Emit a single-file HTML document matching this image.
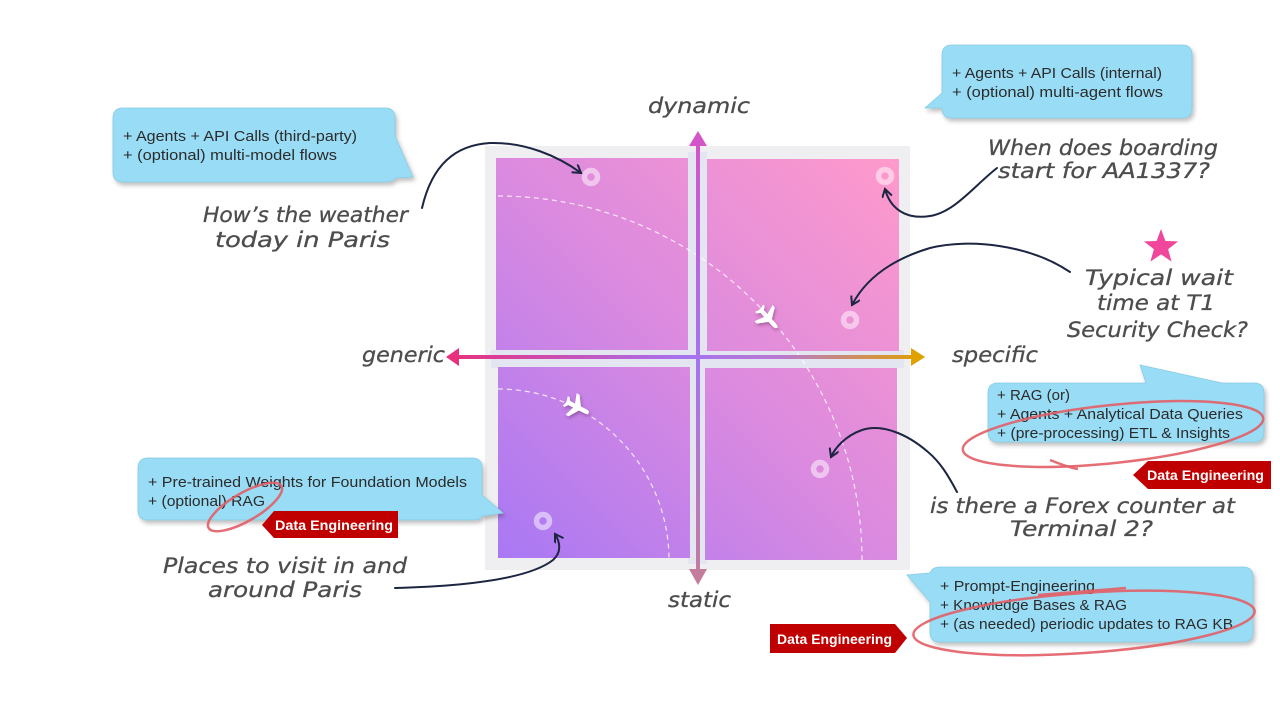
<!DOCTYPE html>
<html><head><meta charset="utf-8"><style>
html,body{margin:0;padding:0;background:#fff;}
svg{display:block;}
.hw{font-family:"DejaVu Sans","Liberation Sans",sans-serif;font-style:italic;fill:#4d4d4d;font-size:21px;stroke:#4d4d4d;stroke-width:0.3px;}
.cb{font-family:"Liberation Sans","DejaVu Sans",sans-serif;fill:#2b2b2b;font-size:15px;}
.de{font-family:"Liberation Sans","DejaVu Sans",sans-serif;fill:#fff;font-size:13.5px;font-weight:bold;}
</style></head><body>
<svg width="1280" height="720" viewBox="0 0 1280 720" xmlns="http://www.w3.org/2000/svg">
<defs>
<linearGradient id="qg" gradientUnits="userSpaceOnUse" x1="498" y1="560" x2="899" y2="158">
<stop offset="0" stop-color="#a878f4"/><stop offset="0.5" stop-color="#db8adf"/><stop offset="1" stop-color="#ff9acb"/>
</linearGradient>
<linearGradient id="vg" gradientUnits="userSpaceOnUse" x1="0" y1="140" x2="0" y2="580">
<stop offset="0" stop-color="#d455c8"/><stop offset="0.5" stop-color="#a673f0"/><stop offset="1" stop-color="#c47c9c"/>
</linearGradient>
<linearGradient id="hg" gradientUnits="userSpaceOnUse" x1="450" y1="0" x2="922" y2="0">
<stop offset="0" stop-color="#e8307f"/><stop offset="0.5" stop-color="#a673f0"/><stop offset="0.7" stop-color="#b87ad0"/><stop offset="1" stop-color="#e0a000"/>
</linearGradient>
<filter id="sh" x="-10%" y="-20%" width="130%" height="150%">
<feDropShadow dx="2" dy="3" stdDeviation="2" flood-color="#000" flood-opacity="0.25"/>
</filter>
<filter id="psh" x="-50%" y="-50%" width="200%" height="200%">
<feDropShadow dx="1" dy="2" stdDeviation="1.5" flood-color="#603060" flood-opacity="0.5"/>
</filter>
<marker id="ah" markerUnits="userSpaceOnUse" markerWidth="14" markerHeight="14" refX="9" refY="5" orient="auto">
<path d="M1,0 L9,5 L1,10" fill="none" stroke="#1c2541" stroke-width="2"/>
</marker>
</defs>

<!-- quadrant background -->
<rect x="485" y="146" width="425" height="424" fill="#efeff1"/>
<rect x="688" y="152" width="19" height="412" fill="#e3e5f1"/>
<rect x="491" y="350" width="413" height="18" fill="#e3e5f1"/>
<rect x="496" y="158" width="192" height="192" fill="url(#qg)"/>
<rect x="707" y="159" width="192" height="192" fill="url(#qg)"/>
<rect x="498" y="367" width="192" height="191" fill="url(#qg)"/>
<rect x="705" y="368" width="192" height="192" fill="url(#qg)"/>

<!-- dashed arcs -->
<path d="M498,196 A364,364 0 0 1 862,560" fill="none" stroke="#fff" stroke-opacity="0.8" stroke-width="1.2" stroke-dasharray="5,4"/>
<path d="M498,389 A171,171 0 0 1 669,560" fill="none" stroke="#fff" stroke-opacity="0.8" stroke-width="1.2" stroke-dasharray="5,4"/>

<!-- axes -->
<rect x="696" y="144" width="4" height="427" fill="url(#vg)"/>
<polygon points="689,146 707,146 698,131" fill="#d455c8"/>
<polygon points="689,569 707,569 698,585" fill="#c47c9c"/>
<rect x="457" y="355" width="456" height="4" fill="url(#hg)"/>
<polygon points="459,348 459,366 446,357" fill="#e8307f"/>
<polygon points="911,348 911,366 925,357" fill="#e0a000"/>

<!-- rings -->
<g fill="none" stroke="#fff" stroke-opacity="0.5" stroke-width="5.5">
<circle cx="591" cy="177" r="6.5"/>
<circle cx="885" cy="176" r="6.5"/>
<circle cx="850" cy="320" r="6.5"/>
<circle cx="820" cy="469" r="6.5"/>
<circle cx="543" cy="521" r="6.5"/>
</g>

<!-- planes -->
<g filter="url(#psh)" fill="#fff">
<path transform="translate(768,318) rotate(48) scale(1.1)" d="M12,0 C12,-1.5 10,-2 8,-2 L3,-2 L-3,-11 L-6,-11 L-3,-2 L-8,-2 L-10,-5 L-12,-5 L-11,-1.5 L-11,1.5 L-12,5 L-10,5 L-8,2 L-3,2 L-6,11 L-3,11 L3,2 L8,2 C10,2 12,1.5 12,0 Z"/>
<path transform="translate(577,407) rotate(27) scale(1.1)" d="M12,0 C12,-1.5 10,-2 8,-2 L3,-2 L-3,-11 L-6,-11 L-3,-2 L-8,-2 L-10,-5 L-12,-5 L-11,-1.5 L-11,1.5 L-12,5 L-10,5 L-8,2 L-3,2 L-6,11 L-3,11 L3,2 L8,2 C10,2 12,1.5 12,0 Z"/>
</g>

<!-- axis labels -->
<text class="hw" x="648" y="113" textLength="102" lengthAdjust="spacingAndGlyphs">dynamic</text>
<text class="hw" x="668" y="607" textLength="63" lengthAdjust="spacingAndGlyphs">static</text>
<text class="hw" x="362" y="362" textLength="83" lengthAdjust="spacingAndGlyphs">generic</text>
<text class="hw" x="952" y="362" textLength="86" lengthAdjust="spacingAndGlyphs">specific</text>

<!-- callouts -->
<g filter="url(#sh)" fill="#99dcf5" stroke="#88cbe4" stroke-width="0.8">
<path d="M123,108 H385 Q395,108 395,118 V136 L413,177 L395,178 Q393,182 385,182 H123 Q113,182 113,172 V118 Q113,108 123,108 Z"/>
<path d="M952,45 H1182 Q1192,45 1192,55 V108 Q1192,118 1182,118 H952 Q942,118 942,108 L925,108 L942,93 V55 Q942,45 952,45 Z"/>
<path d="M998,383 H1146 L1140,365 L1222,383 H1254 Q1264,383 1264,393 V432 Q1264,442 1254,442 H998 Q988,442 988,432 V393 Q988,383 998,383 Z"/>
<path d="M148,458 H472 Q482,458 482,468 V495 L503,513 L482,516 Q481,520 472,520 H148 Q138,520 138,510 V468 Q138,458 148,458 Z"/>
<path d="M940,567 H1243 Q1253,567 1253,577 V632 Q1253,642 1243,642 H940 Q930,642 930,632 V602 L907,575 L930,573 Q932,567 940,567 Z"/>
</g>

<text class="cb" x="123" y="141" textLength="234" lengthAdjust="spacingAndGlyphs">+ Agents + API Calls (third-party)</text>
<text class="cb" x="123" y="160" textLength="214" lengthAdjust="spacingAndGlyphs">+ (optional) multi-model flows</text>

<text class="cb" x="952" y="78" textLength="210" lengthAdjust="spacingAndGlyphs">+ Agents + API Calls (internal)</text>
<text class="cb" x="952" y="97" textLength="211" lengthAdjust="spacingAndGlyphs">+ (optional) multi-agent flows</text>

<text class="cb" x="997" y="400" textLength="73" lengthAdjust="spacingAndGlyphs">+ RAG (or)</text>
<text class="cb" x="997" y="419" textLength="246" lengthAdjust="spacingAndGlyphs">+ Agents + Analytical Data Queries</text>
<text class="cb" x="997" y="438" textLength="233" lengthAdjust="spacingAndGlyphs">+ (pre-processing) ETL &amp; Insights</text>

<text class="cb" x="148" y="487" textLength="319" lengthAdjust="spacingAndGlyphs">+ Pre-trained Weights for Foundation Models</text>
<text class="cb" x="148" y="506" textLength="117" lengthAdjust="spacingAndGlyphs">+ (optional) RAG</text>

<text class="cb" x="940" y="591" textLength="155" lengthAdjust="spacingAndGlyphs">+ Prompt-Engineering</text>
<text class="cb" x="940" y="610" textLength="187" lengthAdjust="spacingAndGlyphs">+ Knowledge Bases &amp; RAG</text>
<text class="cb" x="940" y="629" textLength="293" lengthAdjust="spacingAndGlyphs">+ (as needed) periodic updates to RAG KB</text>

<!-- red ellipses -->
<g fill="none" stroke="#e25e66" stroke-opacity="0.9" stroke-width="2.5">
<ellipse cx="1113" cy="434" rx="151" ry="29" transform="rotate(-6 1113 434)"/>
<path d="M1050,460 Q1070,468 1078,469"/>
<ellipse cx="1084" cy="623" rx="171" ry="30" transform="rotate(-4 1084 623)"/>
<path d="M1126,588 L1038,595"/>
<ellipse cx="245" cy="507" rx="42" ry="14" transform="rotate(-30 245 507)"/>
</g>

<!-- Data Engineering tags -->
<polygon points="1133,475 1148,461 1271,461 1271,489 1148,489" fill="#c00000"/>
<text class="de" x="1147" y="480" textLength="117" lengthAdjust="spacingAndGlyphs">Data Engineering</text>
<polygon points="262,525 274,511 398,511 398,538 274,538" fill="#c00000"/>
<text class="de" x="275" y="530" textLength="118" lengthAdjust="spacingAndGlyphs">Data Engineering</text>
<polygon points="770,624 895,624 907,638 895,653 770,653" fill="#c00000"/>
<text class="de" x="777" y="644" textLength="115" lengthAdjust="spacingAndGlyphs">Data Engineering</text>

<!-- star -->
<polygon points="1161,229 1165.4,241 1178.1,241.4 1168.1,249.3 1171.6,261.6 1161,254.4 1150.4,261.6 1153.9,249.3 1143.9,241.4 1156.6,241" fill="#f0479c"/>

<!-- handwritten questions -->
<text class="hw" x="203" y="222" textLength="205" lengthAdjust="spacingAndGlyphs">How’s the weather</text>
<text class="hw" x="215" y="247" textLength="175" lengthAdjust="spacingAndGlyphs">today in Paris</text>

<text class="hw" x="988" y="155" textLength="230" lengthAdjust="spacingAndGlyphs">When does boarding</text>
<text class="hw" x="998" y="178" textLength="212" lengthAdjust="spacingAndGlyphs">start for AA1337?</text>

<text class="hw" x="1085" y="285" textLength="148" lengthAdjust="spacingAndGlyphs">Typical wait</text>
<text class="hw" x="1097" y="310" textLength="118" lengthAdjust="spacingAndGlyphs">time at T1</text>
<text class="hw" x="1067" y="337" textLength="181" lengthAdjust="spacingAndGlyphs">Security Check?</text>

<text class="hw" x="930" y="513" textLength="305" lengthAdjust="spacingAndGlyphs">is there a Forex counter at</text>
<text class="hw" x="1010" y="536" textLength="143" lengthAdjust="spacingAndGlyphs">Terminal 2?</text>

<text class="hw" x="163" y="573" textLength="244" lengthAdjust="spacingAndGlyphs">Places to visit in and</text>
<text class="hw" x="208" y="597" textLength="154" lengthAdjust="spacingAndGlyphs">around Paris</text>

<!-- connector arrows -->
<g fill="none" stroke="#1c2541" stroke-width="2" stroke-linecap="round">
<path d="M422,208 C432,165 455,145 490,143 C525,142 558,156 581,173" marker-end="url(#ah)"/>
<path d="M997,168 C975,185 955,212 930,216 C905,220 890,208 885,189" marker-end="url(#ah)"/>
<path d="M1070,272 C1030,245 970,238 930,248 C890,260 865,280 852,305" marker-end="url(#ah)"/>
<path d="M957,492 C948,475 940,462 928,452 C905,432 880,424 862,430 C845,436 835,448 831,457" marker-end="url(#ah)"/>
<path d="M395,588 C470,586 530,578 553,560 C562,552 560,542 555,534" marker-end="url(#ah)"/>
</g>
</svg>
</body></html>
